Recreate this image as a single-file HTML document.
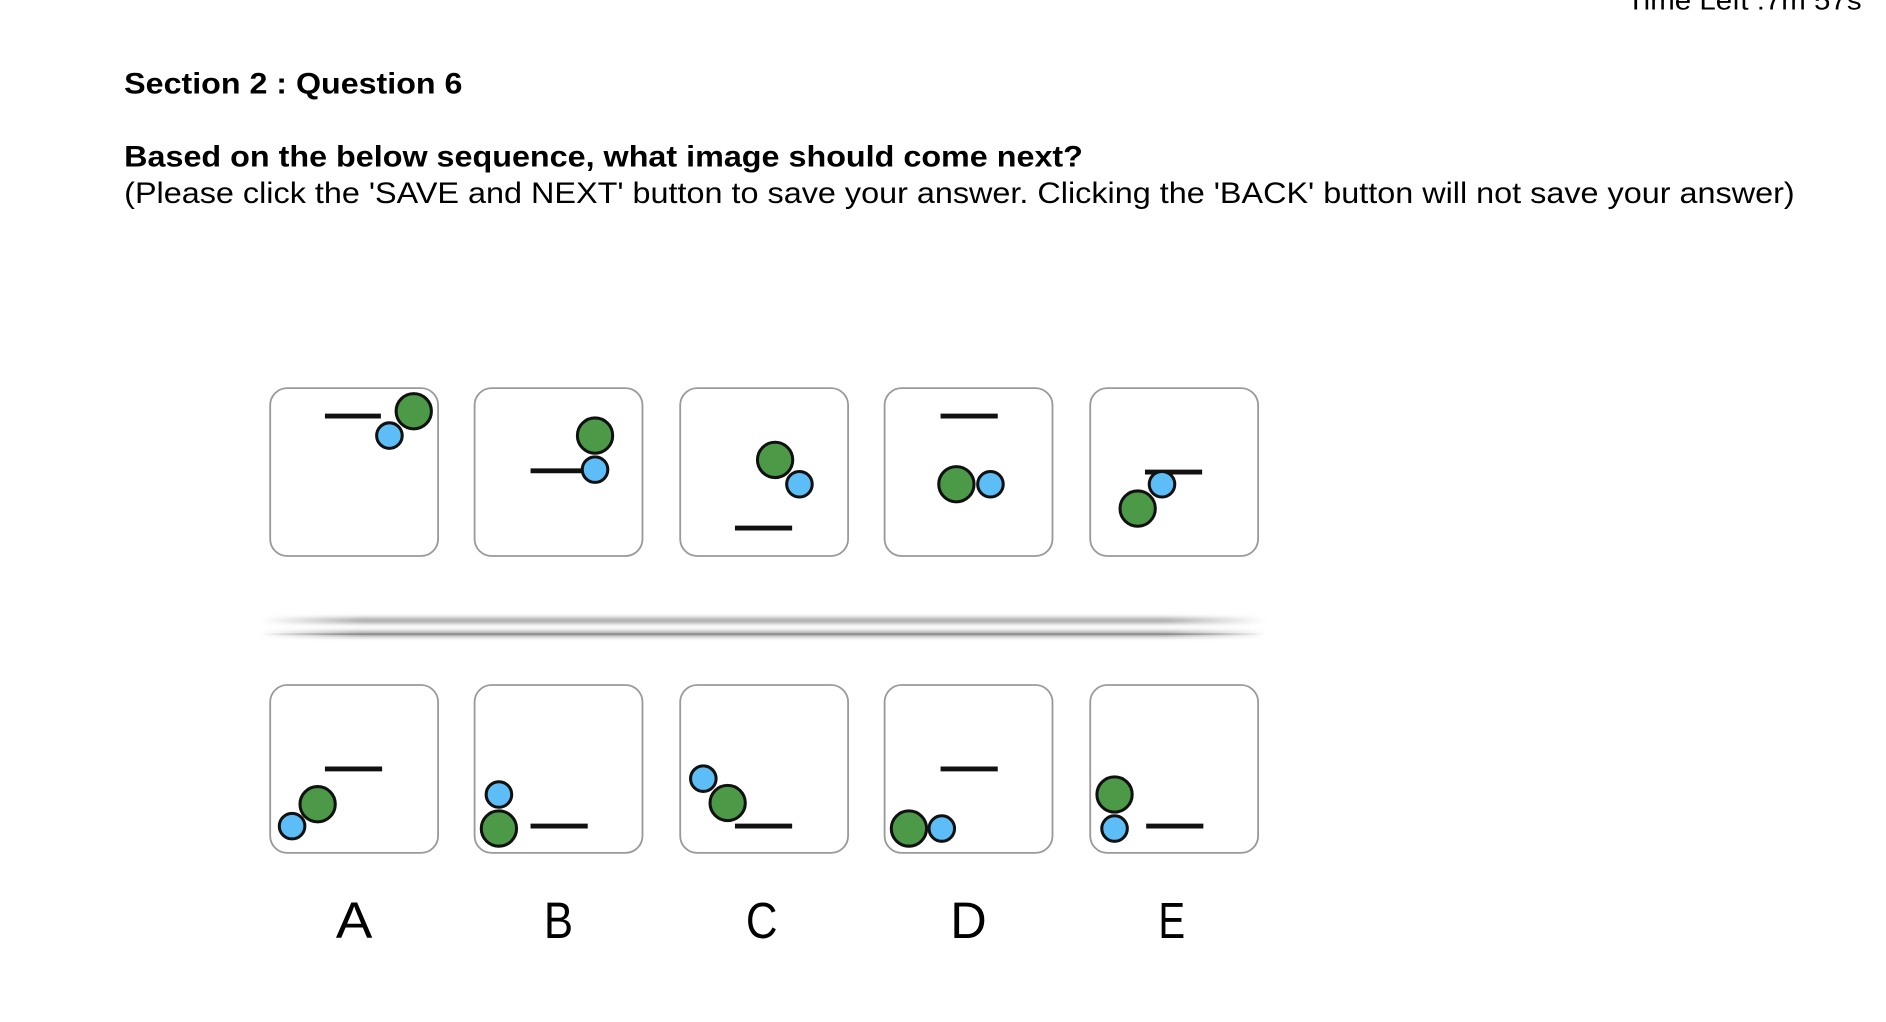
<!DOCTYPE html>
<html><head><meta charset="utf-8"><style>
html,body{margin:0;padding:0;background:#fff;width:1886px;height:1022px;overflow:hidden}
svg{display:block}
text{font-family:"Liberation Sans",Arial,sans-serif}
</style></head><body>
<svg width="1886" height="1022" viewBox="0 0 1550 840" xmlns="http://www.w3.org/2000/svg">
<defs>
<linearGradient id="fade" x1="0" x2="1" y1="0" y2="0">
<stop offset="0" stop-color="#888" stop-opacity="0"/>
<stop offset="0.1" stop-color="#888" stop-opacity="0.9"/>
<stop offset="0.9" stop-color="#888" stop-opacity="0.9"/>
<stop offset="1" stop-color="#888" stop-opacity="0"/>
</linearGradient>
<filter id="blur" x="-5%" y="-200%" width="110%" height="500%"><feGaussianBlur stdDeviation="2"/></filter>
</defs>
<text x="1337" y="8" textLength="193" lengthAdjust="spacingAndGlyphs" font-size="22" fill="#000">Time Left :7m 57s</text>
<text x="102" y="77" textLength="278" lengthAdjust="spacingAndGlyphs" font-size="24" font-weight="bold" fill="#000">Section 2 : Question 6</text>
<text x="102" y="137" textLength="788" lengthAdjust="spacingAndGlyphs" font-size="24" font-weight="bold" fill="#000">Based on the below sequence, what image should come next?</text>
<text x="102" y="167" textLength="1373" lengthAdjust="spacingAndGlyphs" font-size="24" fill="#000">(Please click the 'SAVE and NEXT' button to save your answer. Clicking the 'BACK' button will not save your answer)</text>
<g>
<rect x="215" y="508" width="825" height="4" fill="url(#fade)" filter="url(#blur)"/>
<rect x="215" y="519" width="825" height="4" fill="url(#fade)" filter="url(#blur)"/>
<rect x="215" y="520.5" width="825" height="1.5" fill="url(#fade)"/>
</g>
<g id="boxes"></g>
<g font-size="42" text-anchor="middle" fill="#000">
<text x="291" y="771" textLength="30" lengthAdjust="spacingAndGlyphs">A</text>
<text x="459" y="771" textLength="24" lengthAdjust="spacingAndGlyphs">B</text>
<text x="626" y="771" textLength="26" lengthAdjust="spacingAndGlyphs">C</text>
<text x="796" y="771" textLength="30" lengthAdjust="spacingAndGlyphs">D</text>
<text x="963" y="771" textLength="22" lengthAdjust="spacingAndGlyphs">E</text>
</g>
</svg>
<script>
const NS='http://www.w3.org/2000/svg';
const boxX=[222,390,559,727,896];
const seq=[
 {l:[45,91,23],g:[118,19],b:[98,39]},
 {l:[46,90,68],g:[99,39],b:[99,67]},
 {l:[45,92,115],g:[78,59],b:[98,79]},
 {l:[46,93,23],g:[59,79],b:[87,79]},
 {l:[45,92,69],g:[39,99],b:[59,79]}
];
const opts=[
 {l:[45,92,69],g:[39,98],b:[18,116]},
 {l:[46,93,116],g:[20,118],b:[20,90]},
 {l:[45,92,116],g:[39,97],b:[19,77]},
 {l:[46,93,69],g:[20,118],b:[47,118]},
 {l:[46,93,116],g:[20,90],b:[20,118]}
];
const root=document.getElementById('boxes');
function mk(t,a){const e=document.createElementNS(NS,t);for(const k in a)e.setAttribute(k,a[k]);return e;}
function draw(list,top,prefix,inter){
 list.forEach((d,i)=>{
  const g=mk('g',{transform:`translate(${boxX[i]},${top})`});
  
  
  g.appendChild(mk('rect',{x:0,y:0,width:138,height:138,rx:14,fill:'#fff',stroke:'#9a9a9a','stroke-width':1.5}));
  g.appendChild(mk('line',{x1:d.l[0],x2:d.l[1],y1:d.l[2],y2:d.l[2],stroke:'#111','stroke-width':4}));
  g.appendChild(mk('circle',{cx:d.g[0],cy:d.g[1],r:14.5,fill:'#4c9a48',stroke:'#111','stroke-width':2.5}));
  g.appendChild(mk('circle',{cx:d.b[0],cy:d.b[1],r:10.5,fill:'#5dbdf6',stroke:'#111','stroke-width':2.5}));
  root.appendChild(g);
 });
}
draw(seq,319,'sequence-box','false');
draw(opts,563,'option-box','true');
</script>
</body></html>
